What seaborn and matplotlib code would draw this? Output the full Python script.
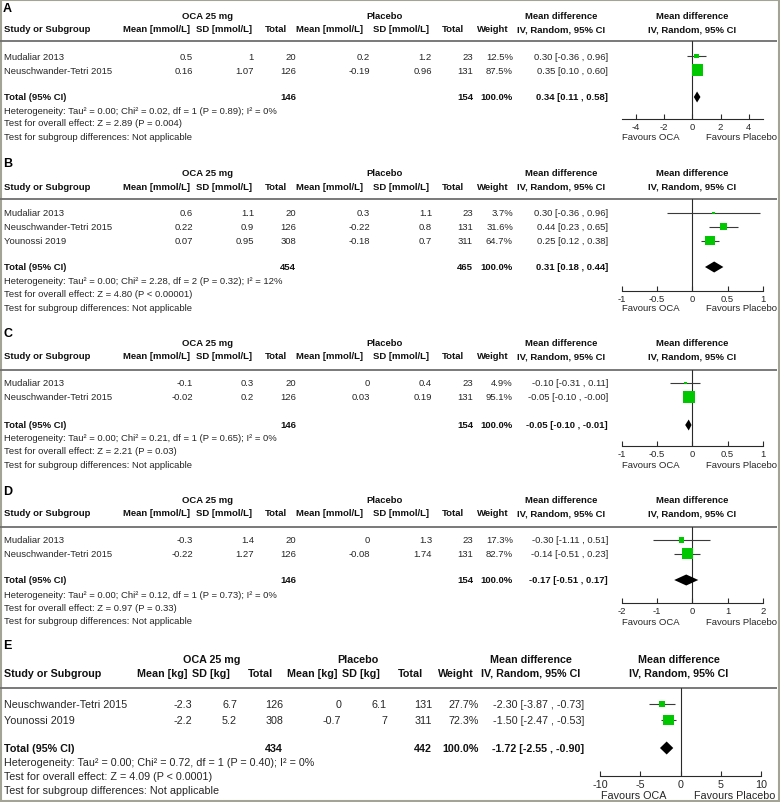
import numpy as np
import pandas as pd
import matplotlib
matplotlib.use("Agg")
import matplotlib.pyplot as plt
import seaborn as sns
from matplotlib.patches import Rectangle

# ---------------- DATA ----------------
panel_labels = ["A", "B", "C", "D", "E"]

studies_A = ["Mudaliar 2013", "Neuschwander-Tetri 2015"]
oca_mean_A = [0.5, 0.16]
oca_sd_A = [1, 1.07]
oca_n_A = [20, 126]
pl_mean_A = [0.2, -0.19]
pl_sd_A = [1.2, 0.96]
pl_n_A = [23, 131]
weight_A = [12.5, 87.5]
md_A = [0.30, 0.35]
lo_A = [-0.36, 0.10]
hi_A = [0.96, 0.60]
total_A = [146, 154, 0.34, 0.11, 0.58]
het_A = "Heterogeneity: Tau² = 0.00; Chi² = 0.02, df = 1 (P = 0.89); I² = 0%"
z_A = "Test for overall effect: Z = 2.89 (P = 0.004)"
ticks_A = [-4, -2, 0, 2, 4]
ticklabels_A = ["-4", "-2", "0", "2", "4"]
xlim_A = (-5, 5)

studies_B = ["Mudaliar 2013", "Neuschwander-Tetri 2015", "Younossi 2019"]
oca_mean_B = [0.6, 0.22, 0.07]
oca_sd_B = [1.1, 0.9, 0.95]
oca_n_B = [20, 126, 308]
pl_mean_B = [0.3, -0.22, -0.18]
pl_sd_B = [1.1, 0.8, 0.7]
pl_n_B = [23, 131, 311]
weight_B = [3.7, 31.6, 64.7]
md_B = [0.30, 0.44, 0.25]
lo_B = [-0.36, 0.23, 0.12]
hi_B = [0.96, 0.65, 0.38]
total_B = [454, 465, 0.31, 0.18, 0.44]
het_B = "Heterogeneity: Tau² = 0.00; Chi² = 2.28, df = 2 (P = 0.32); I² = 12%"
z_B = "Test for overall effect: Z = 4.80 (P < 0.00001)"
ticks_B = [-1, -0.5, 0, 0.5, 1]
ticklabels_B = ["-1", "-0.5", "0", "0.5", "1"]
xlim_B = (-1, 1)

studies_C = ["Mudaliar 2013", "Neuschwander-Tetri 2015"]
oca_mean_C = [-0.1, -0.02]
oca_sd_C = [0.3, 0.2]
oca_n_C = [20, 126]
pl_mean_C = [0, 0.03]
pl_sd_C = [0.4, 0.19]
pl_n_C = [23, 131]
weight_C = [4.9, 95.1]
md_C = [-0.10, -0.05]
lo_C = [-0.31, -0.10]
hi_C = [0.11, -0.0]
total_C = [146, 154, -0.05, -0.10, -0.01]
het_C = "Heterogeneity: Tau² = 0.00; Chi² = 0.21, df = 1 (P = 0.65); I² = 0%"
z_C = "Test for overall effect: Z = 2.21 (P = 0.03)"
ticks_C = [-1, -0.5, 0, 0.5, 1]
ticklabels_C = ["-1", "-0.5", "0", "0.5", "1"]
xlim_C = (-1, 1)

studies_D = ["Mudaliar 2013", "Neuschwander-Tetri 2015"]
oca_mean_D = [-0.3, -0.22]
oca_sd_D = [1.4, 1.27]
oca_n_D = [20, 126]
pl_mean_D = [0, -0.08]
pl_sd_D = [1.3, 1.74]
pl_n_D = [23, 131]
weight_D = [17.3, 82.7]
md_D = [-0.30, -0.14]
lo_D = [-1.11, -0.51]
hi_D = [0.51, 0.23]
total_D = [146, 154, -0.17, -0.51, 0.17]
het_D = "Heterogeneity: Tau² = 0.00; Chi² = 0.12, df = 1 (P = 0.73); I² = 0%"
z_D = "Test for overall effect: Z = 0.97 (P = 0.33)"
ticks_D = [-2, -1, 0, 1, 2]
ticklabels_D = ["-2", "-1", "0", "1", "2"]
xlim_D = (-2, 2)

studies_E = ["Neuschwander-Tetri 2015", "Younossi 2019"]
oca_mean_E = [-2.3, -2.2]
oca_sd_E = [6.7, 5.2]
oca_n_E = [126, 308]
pl_mean_E = [0, -0.7]
pl_sd_E = [6.1, 7]
pl_n_E = [131, 311]
weight_E = [27.7, 72.3]
md_E = [-2.30, -1.50]
lo_E = [-3.87, -2.47]
hi_E = [-0.73, -0.53]
total_E = [434, 442, -1.72, -2.55, -0.90]
het_E = "Heterogeneity: Tau² = 0.00; Chi² = 0.72, df = 1 (P = 0.40); I² = 0%"
z_E = "Test for overall effect: Z = 4.09 (P < 0.0001)"
ticks_E = [-10, -5, 0, 5, 10]
ticklabels_E = ["-10", "-5", "0", "5", "10"]
xlim_E = (-10, 10)

unit_mmol = "[mmol/L]"
unit_kg = "[kg]"
subgroup_text = "Test for subgroup differences: Not applicable"

# ---------------- STYLE / LAYOUT ----------------
sns.set_theme(style="white")
plt.rcParams["font.family"] = ["Liberation Sans", "DejaVu Sans"]

W, H = 780, 803
GREEN = "#00c800"
TXT = "#262626"
BOLD = "#111111"
LINE = "#2a2a2a"

cols_AD = dict(fs=6.8, om=193, osd=254, on=296, pm=370, psd=432, pn=473, w=513, md=608,
               h_om=156.5, h_osd=224.5, h_on=276, h_pm=330, h_psd=401, h_pn=453, h_w=493,
               h_md=561, h_plot=692.5, grp_oca=208, grp_pl=385,
               px0=621.5, px1=763, fav_l=622, fav_r=777)
cols_E = dict(fs=7.75, om=192, osd=237, on=283, pm=341, psd=387, pn=432, w=479, md=584,
              h_om=162.5, h_osd=211, h_on=260.5, h_pm=312, h_psd=361, h_pn=410, h_w=455.5,
              h_md=531, h_plot=679, grp_oca=212, grp_pl=358,
              px0=600, px1=761, fav_l=601, fav_r=775)

ypos = {
    "A": dict(lab=8.5, grp=16.5, hdr=30, line=42, row0=57, step=14, tot=98, het=111, ov=124, sub=137, axis=120, fav=137),
    "B": dict(lab=164, grp=173, hdr=187, line=200, row0=214, step=13.8, tot=268, het=282, ov=295, sub=309, axis=292, fav=309),
    "C": dict(lab=334, grp=344, hdr=357, line=371, row0=384, step=14, tot=426, het=439, ov=452, sub=466, axis=447, fav=466),
    "D": dict(lab=492, grp=501, hdr=514, line=528, row0=541, step=13.5, tot=581, het=596, ov=609, sub=622, axis=604, fav=623),
    "E": dict(lab=646.5, grp=660, hdr=674, line=689, row0=705, step=16, tot=749, het=763, ov=777, sub=791, axis=777, fav=796),
}

panels = {
    "A": dict(st=studies_A, om=oca_mean_A, osd=oca_sd_A, on=oca_n_A, pm=pl_mean_A, psd=pl_sd_A, pn=pl_n_A,
              w=weight_A, md=md_A, lo=lo_A, hi=hi_A, tot=total_A, het=het_A, z=z_A,
              ticks=ticks_A, tl=ticklabels_A, xlim=xlim_A, unit=unit_mmol, cols=cols_AD),
    "B": dict(st=studies_B, om=oca_mean_B, osd=oca_sd_B, on=oca_n_B, pm=pl_mean_B, psd=pl_sd_B, pn=pl_n_B,
              w=weight_B, md=md_B, lo=lo_B, hi=hi_B, tot=total_B, het=het_B, z=z_B,
              ticks=ticks_B, tl=ticklabels_B, xlim=xlim_B, unit=unit_mmol, cols=cols_AD),
    "C": dict(st=studies_C, om=oca_mean_C, osd=oca_sd_C, on=oca_n_C, pm=pl_mean_C, psd=pl_sd_C, pn=pl_n_C,
              w=weight_C, md=md_C, lo=lo_C, hi=hi_C, tot=total_C, het=het_C, z=z_C,
              ticks=ticks_C, tl=ticklabels_C, xlim=xlim_C, unit=unit_mmol, cols=cols_AD),
    "D": dict(st=studies_D, om=oca_mean_D, osd=oca_sd_D, on=oca_n_D, pm=pl_mean_D, psd=pl_sd_D, pn=pl_n_D,
              w=weight_D, md=md_D, lo=lo_D, hi=hi_D, tot=total_D, het=het_D, z=z_D,
              ticks=ticks_D, tl=ticklabels_D, xlim=xlim_D, unit=unit_mmol, cols=cols_AD),
    "E": dict(st=studies_E, om=oca_mean_E, osd=oca_sd_E, on=oca_n_E, pm=pl_mean_E, psd=pl_sd_E, pn=pl_n_E,
              w=weight_E, md=md_E, lo=lo_E, hi=hi_E, tot=total_E, het=het_E, z=z_E,
              ticks=ticks_E, tl=ticklabels_E, xlim=xlim_E, unit=unit_kg, cols=cols_E),
}

fig = plt.figure(figsize=(7.8, 8.03), dpi=100)
bg = fig.add_axes([0, 0, 1, 1])
bg.set_xlim(0, W)
bg.set_ylim(H, 0)
bg.axis("off")


def t(x, y, s, fs, ha="left", bold=False, color=None):
    bg.text(x, y, s, fontsize=fs, ha=ha, va="center",
            fontweight="bold" if bold else "normal",
            color=color if color else (BOLD if bold else TXT))


for key in panel_labels:
    p = panels[key]
    c = p["cols"]
    y = ypos[key]
    fs = c["fs"]
    t(3, y["lab"], key, 9.0, bold=True, color="black")
    t(c["grp_oca"], y["grp"], "OCA 25 mg", fs, ha="center", bold=True)
    t(c["grp_pl"], y["grp"], "Placebo", fs, ha="center", bold=True)
    t(c["h_md"], y["grp"], "Mean difference", fs, ha="center", bold=True)
    t(c["h_plot"], y["grp"], "Mean difference", fs, ha="center", bold=True)
    t(4, y["hdr"], "Study or Subgroup", fs, bold=True)
    t(c["h_om"], y["hdr"], f"Mean {p['unit']}", fs, ha="center", bold=True)
    t(c["h_osd"], y["hdr"], f"SD {p['unit']}", fs, ha="center", bold=True)
    t(c["h_on"], y["hdr"], "Total", fs, ha="center", bold=True)
    t(c["h_pm"], y["hdr"], f"Mean {p['unit']}", fs, ha="center", bold=True)
    t(c["h_psd"], y["hdr"], f"SD {p['unit']}", fs, ha="center", bold=True)
    t(c["h_pn"], y["hdr"], "Total", fs, ha="center", bold=True)
    t(c["h_w"], y["hdr"], "Weight", fs, ha="center", bold=True)
    t(c["h_md"], y["hdr"], "IV, Random, 95% CI", fs, ha="center", bold=True)
    t(c["h_plot"], y["hdr"], "IV, Random, 95% CI", fs, ha="center", bold=True)
    bg.plot([0, 777], [y["line"], y["line"]], color="#6e6e6e", lw=1.3, solid_capstyle="butt")

    n = len(p["st"])
    rows_y = [y["row0"] + i * y["step"] for i in range(n)]
    for i in range(n):
        ry = rows_y[i]
        t(4, ry, p["st"][i], fs)
        t(c["om"], ry, f"{p['om'][i]:g}", fs, ha="right")
        t(c["osd"], ry, f"{p['osd'][i]:g}", fs, ha="right")
        t(c["on"], ry, f"{p['on'][i]}", fs, ha="right")
        t(c["pm"], ry, f"{p['pm'][i]:g}", fs, ha="right")
        t(c["psd"], ry, f"{p['psd'][i]:g}", fs, ha="right")
        t(c["pn"], ry, f"{p['pn'][i]}", fs, ha="right")
        t(c["w"], ry, f"{p['w'][i]:.1f}%", fs, ha="right")
        t(c["md"], ry, f"{p['md'][i]:.2f} [{p['lo'][i]:.2f} , {p['hi'][i]:.2f}]", fs, ha="right")

    tn_o, tn_p, tmd, tlo, thi = p["tot"]
    t(4, y["tot"], "Total (95% CI)", fs, bold=True)
    t(c["on"], y["tot"], f"{tn_o}", fs, ha="right", bold=True)
    t(c["pn"], y["tot"], f"{tn_p}", fs, ha="right", bold=True)
    t(c["w"], y["tot"], "100.0%", fs, ha="right", bold=True)
    t(c["md"], y["tot"], f"{tmd:.2f} [{tlo:.2f} , {thi:.2f}]", fs, ha="right", bold=True)
    t(4, y["het"], p["het"], fs)
    t(4, y["ov"], p["z"], fs)
    t(4, y["sub"], subgroup_text, fs)

    ax = fig.add_axes([c["px0"] / W, 1 - y["axis"] / H,
                       (c["px1"] - c["px0"]) / W, (y["axis"] - y["line"]) / H])
    ax.set_facecolor("none")
    ax.set_xlim(*p["xlim"])
    ax.set_ylim(y["axis"], y["line"])
    for s in ["top", "left", "right"]:
        ax.spines[s].set_visible(False)
    ax.spines["bottom"].set_color(LINE)
    ax.spines["bottom"].set_linewidth(0.8)
    ax.set_yticks([])
    ax.set_xticks(p["ticks"])
    ax.set_xticklabels(p["tl"])
    ax.tick_params(axis="x", direction="in", length=3.5, width=0.8, color=LINE,
                   labelsize=fs, labelcolor=TXT, pad=2.0, bottom=True)
    ax.axvline(0, color=LINE, lw=0.8, zorder=1)

    df = pd.DataFrame({"md": p["md"], "lo": p["lo"], "hi": p["hi"], "w": p["w"], "y": rows_y})
    ax.hlines(df["y"], df["lo"], df["hi"], color="#3a3a3a", lw=0.8, zorder=2)
    sns.scatterplot(data=df, x="md", y="y", size="w", sizes=(0, 75), size_norm=(0, 100),
                    marker="s", color=GREEN, linewidth=0, legend=False, ax=ax, zorder=3)
    dh = 6.5 if key == "E" else 5.5
    ax.fill([tlo, tmd, thi, tmd], [y["tot"], y["tot"] - dh, y["tot"], y["tot"] + dh],
            color="black", lw=0, zorder=3)
    ax.set_xlabel("")
    ax.set_ylabel("")

    t(c["fav_l"], y["fav"], "Favours OCA", fs)
    t(c["fav_r"], y["fav"], "Favours Placebo", fs, ha="right")

bg.add_patch(Rectangle((0.75, 0.75), W - 1.5, H - 1.5, fill=False, edgecolor="#a4a496", lw=1.5))

fig.savefig("out.png", dpi=100)
